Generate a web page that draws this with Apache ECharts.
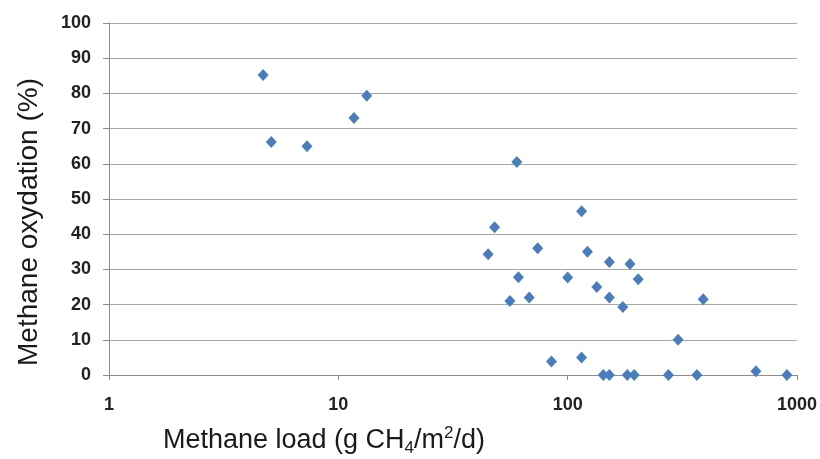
<!DOCTYPE html>
<html>
<head>
<meta charset="utf-8">
<script src="https://cdn.jsdelivr.net/npm/echarts@6/dist/echarts.min.js"></script>
<style>html,body{margin:0;padding:0;background:#fff;}#c{width:820px;height:459px;}</style>
</head>
<body>
<div id="c"></div>
<script>
// Methane load (g CH4/m2/d)
var loadValues = [4.7, 5.1, 7.3, 11.7, 13.3, 60, 115, 48, 45, 74, 122, 152, 187, 61, 100, 203, 134, 56, 68, 152, 174, 390, 303, 85, 115, 143, 152, 182, 195, 275, 366, 662, 904];
// Methane oxydation (%)
var oxidationValues = [85.2, 66.2, 65.0, 73.0, 79.3, 60.5, 46.5, 42.0, 34.3, 36.0, 35.0, 32.1, 31.5, 27.8, 27.7, 27.2, 25.0, 21.0, 22.0, 22.0, 19.3, 21.5, 10.0, 3.8, 5.0, 0, 0, 0, 0, 0, 0, 1.1, 0];
var xTickLabels = ['1', '10', '100', '1000'];
var yTickLabels = ['0','10','20','30','40','50','60','70','80','90','100'];

var points = loadValues.map(function (v, i) { return [v, oxidationValues[i]]; });

var FONT = 'Liberation Sans, Arial, sans-serif';
var chart = echarts.init(document.getElementById('c'), null, {renderer: 'canvas'});
chart.setOption({
  animation: false,
  backgroundColor: '#ffffff',
  grid: {left: 109, right: 23, top: 23, bottom: 84, containLabel: false, outerBoundsMode: 'none'},
  xAxis: {
    type: 'log', logBase: 10, min: 1, max: 1000,
    name: '{a|Methane load (g CH}{sub|4}{a|/m}{sup|2}{a|/d)}',
    nameLocation: 'middle', nameGap: 50,
    nameTextStyle: {
      padding: [0, 258, 0, 0],
      rich: {
        a: {fontFamily: FONT, fontSize: 27, color: '#1a1a1a', lineHeight: 32},
        sub: {fontFamily: FONT, fontSize: 17, color: '#1a1a1a', lineHeight: 16, verticalAlign: 'bottom'},
        sup: {fontFamily: FONT, fontSize: 17, color: '#1a1a1a', lineHeight: 16, verticalAlign: 'top'}
      }
    },
    axisLine: {show: true, lineStyle: {color: '#8c8c8c', width: 1}},
    axisTick: {show: true, length: 5, lineStyle: {color: '#8c8c8c'}},
    minorTick: {show: false},
    splitLine: {show: false},
    axisLabel: {
      margin: 21, fontFamily: FONT, fontSize: 18, fontWeight: 'bold', color: '#222',
      formatter: function (v) { var i = Math.round(Math.log10(v)); return xTickLabels[i] !== undefined ? xTickLabels[i] : ''; }
    }
  },
  yAxis: {
    type: 'value', min: 0, max: 100, interval: 10,
    name: 'Methane oxydation (%)',
    nameLocation: 'middle', nameGap: 66,
    nameTextStyle: {fontFamily: FONT, fontSize: 28, color: '#1a1a1a', padding: [0, 46, 0, 0]},
    axisLine: {show: true, lineStyle: {color: '#8c8c8c', width: 1}},
    axisTick: {show: true, length: 6, lineStyle: {color: '#8c8c8c'}},
    splitLine: {show: true, lineStyle: {color: '#a6a6a6', width: 1}},
    axisLabel: {
      margin: 18, fontFamily: FONT, fontSize: 18, fontWeight: 'bold', color: '#222',
      formatter: function (v) { return yTickLabels[Math.round(v / 10)]; }
    }
  },
  series: [{
    type: 'scatter',
    data: points,
    symbol: 'diamond',
    symbolSize: [11, 12],
    itemStyle: {color: '#4a7ebb', opacity: 1}
  }]
});
</script>
</body>
</html>
